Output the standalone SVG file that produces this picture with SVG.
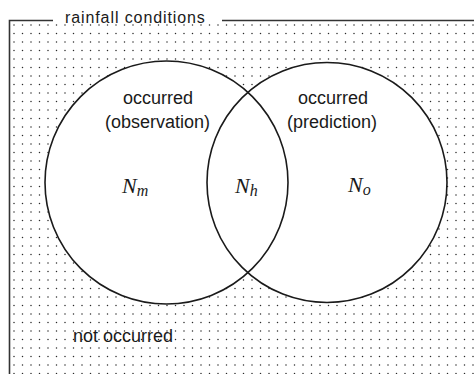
<svg xmlns="http://www.w3.org/2000/svg" width="474" height="374" viewBox="0 0 474 374">
  <style>
    .lbl { font-family: "Liberation Sans", Arial, sans-serif; font-size: 18px; fill: #1a1a1a; }
    .title { font-family: "Liberation Sans", Arial, sans-serif; font-size: 16px; letter-spacing: 0.9px; fill: #1a1a1a; }
    .var { font-family: "Liberation Serif", "Times New Roman", serif; font-style: italic; font-size: 22px; fill: #1a1a1a; }
    .sub { font-size: 16px; }
    .disc { fill: #ffffff; stroke: none; }
    .ring { fill: none; stroke: #1a1a1a; stroke-width: 1.6; }
    .frame { fill: none; stroke: #333333; stroke-width: 1.6; }
  </style>
  <defs>
    <pattern id="dots" x="10" y="21" width="17" height="17" patternUnits="userSpaceOnUse">
      <circle cx="4" cy="4" r="0.75" fill="#2a2a2a"/>
      <circle cx="12.5" cy="4" r="0.75" fill="#2a2a2a"/>
      <circle cx="4" cy="12.5" r="0.75" fill="#2a2a2a"/>
      <circle cx="12.5" cy="12.5" r="0.75" fill="#2a2a2a"/>
    </pattern>
  </defs>
  <rect x="0" y="0" width="474" height="374" fill="#ffffff"/>
  <g id="universe">
    <rect x="10" y="21" width="464" height="353" fill="url(#dots)"/>
    <path class="frame" d="M53,20.5 H9.5 V374 M222,20.5 H474"/>
    <text class="title" x="65" y="23">rainfall conditions</text>
    <text class="lbl" x="73" y="342">not occurred</text>
  </g>
  <g id="circle-backgrounds">
    <circle class="disc" cx="166.5" cy="182.5" r="121.5"/>
    <circle class="disc" cx="327" cy="182.5" r="120"/>
  </g>
  <g id="observation">
    <circle class="ring" cx="166.5" cy="182.5" r="121.5"/>
    <text class="lbl" x="158" y="104" text-anchor="middle">occurred</text>
    <text class="lbl" x="157.5" y="128" text-anchor="middle">(observation)</text>
    <text class="var" x="122" y="193">N<tspan class="sub" dy="3">m</tspan></text>
  </g>
  <g id="prediction">
    <circle class="ring" cx="327" cy="182.5" r="120"/>
    <text class="lbl" x="333" y="104" text-anchor="middle">occurred</text>
    <text class="lbl" x="332" y="128" text-anchor="middle">(prediction)</text>
    <text class="var" x="348" y="192">N<tspan class="sub" dy="3">o</tspan></text>
  </g>
  <g id="hit">
    <text class="var" x="235" y="193">N<tspan class="sub" dy="3">h</tspan></text>
  </g>
  <g id="connectors"></g>
</svg>
